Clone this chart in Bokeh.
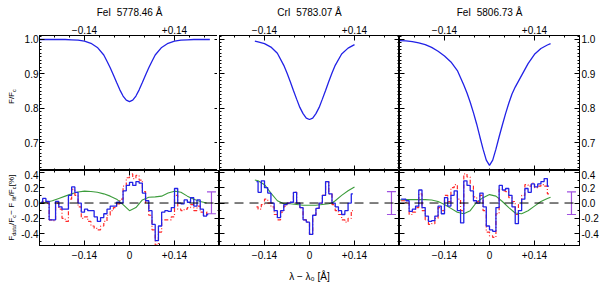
import numpy as np
from bokeh.plotting import figure
from bokeh.layouts import gridplot, row
from bokeh.models import (LinearAxis, FixedTicker, Range1d, Label, Span, Whisker,
                          ColumnDataSource, TeeHead)
from bokeh.embed import file_html
from bokeh.resources import INLINE

FONT = "Liberation Sans"
BLUE = "#2222e6"
RED = "#ff2a2a"
GREEN = "#3c9c3c"
PURPLE = "#a050e0"

# ---------------- data ----------------
titles = ["FeI\u00a0 5778.46 Å", "CrI\u00a0 5783.07 Å", "FeI\u00a0 5806.73 Å"]

# line profiles (normalised flux)
fe1_x = [-0.28, -0.26, -0.24, -0.22, -0.20, -0.18, -0.16, -0.14, -0.12, -0.10,
         -0.08, -0.07, -0.06, -0.05, -0.04, -0.03, -0.02, -0.01, 0.00, 0.01,
         0.02, 0.03, 0.04, 0.05, 0.06, 0.07, 0.08, 0.10, 0.12, 0.14,
         0.16, 0.18, 0.20, 0.22, 0.24, 0.25]
fe1_flux = [1.000, 1.000, 1.000, 1.000, 1.000, 0.999, 0.998, 0.995, 0.989, 0.977,
            0.955, 0.937, 0.918, 0.897, 0.875, 0.854, 0.836, 0.824, 0.820, 0.824,
            0.836, 0.854, 0.875, 0.897, 0.918, 0.937, 0.955, 0.977, 0.989, 0.995,
            0.998, 0.999, 1.000, 1.000, 1.000, 1.000]

cr1_x = [-0.17, -0.16, -0.14, -0.12, -0.10, -0.08, -0.07, -0.06, -0.05, -0.04,
         -0.03, -0.02, -0.01, 0.00, 0.01, 0.02, 0.03, 0.04, 0.05, 0.06,
         0.07, 0.08, 0.10, 0.12, 0.14]
cr1_flux = [0.995, 0.993, 0.988, 0.978, 0.960, 0.925, 0.903, 0.878, 0.852, 0.827,
            0.803, 0.785, 0.772, 0.768, 0.772, 0.785, 0.803, 0.827, 0.852, 0.878,
            0.903, 0.925, 0.958, 0.975, 0.985]

fe2_x = [-0.28, -0.26, -0.24, -0.22, -0.20, -0.18, -0.16, -0.14, -0.12, -0.10,
         -0.08, -0.07, -0.06, -0.05, -0.04, -0.03, -0.02, -0.01, 0.00, 0.01,
         0.02, 0.03, 0.04, 0.05, 0.06, 0.07, 0.08, 0.10, 0.12, 0.14,
         0.16, 0.18, 0.19]
fe2_flux = [0.997, 0.996, 0.994, 0.990, 0.985, 0.977, 0.966, 0.952, 0.935, 0.910,
            0.868, 0.845, 0.818, 0.788, 0.755, 0.718, 0.682, 0.650, 0.635, 0.650,
            0.682, 0.718, 0.752, 0.785, 0.815, 0.842, 0.862, 0.896, 0.930, 0.957,
            0.974, 0.984, 0.988]

# residuals [%] (bin centres)
fe1_res_x = [-0.275, -0.265, -0.255, -0.245, -0.235, -0.225, -0.215, -0.205, -0.195, -0.185,
             -0.175, -0.165, -0.155, -0.145, -0.135, -0.125, -0.115, -0.105, -0.095, -0.085,
             -0.075, -0.065, -0.055, -0.045, -0.035, -0.025, -0.015, -0.005, 0.005, 0.015,
             0.025, 0.035, 0.045, 0.055, 0.065, 0.075, 0.085, 0.095, 0.105, 0.115,
             0.125, 0.135, 0.145, 0.155, 0.165, 0.175, 0.185, 0.195, 0.205, 0.215,
             0.225, 0.235, 0.245]
fe1_res_a = [0.01, 0.06, 0.02, -0.22, -0.22, 0.02, -0.05, -0.08, -0.08, 0.10,
             0.21, 0.14, 0.00, -0.12, -0.08, -0.10, -0.10, -0.18, -0.24, -0.19,
             -0.14, -0.08, -0.04, -0.04, 0.01, 0.00, 0.16, 0.23, 0.27, 0.23,
             0.28, 0.26, 0.13, 0.03, -0.10, -0.28, -0.49, -0.30, -0.12, -0.10,
             -0.11, -0.06, 0.19, 0.00, -0.01, 0.04, 0.01, 0.07, -0.04, 0.04,
             -0.08, -0.17, -0.15]
fe1_res_b = [0.00, 0.02, 0.00, -0.22, -0.23, 0.00, -0.08, -0.20, -0.24, 0.05,
             0.18, 0.10, -0.05, -0.20, -0.18, -0.24, -0.30, -0.33, -0.35, -0.30,
             -0.24, -0.16, -0.10, -0.06, -0.01, 0.05, 0.22, 0.33, 0.38, 0.32,
             0.36, 0.30, 0.15, 0.00, -0.16, -0.35, -0.55, -0.38, -0.22, -0.22,
             -0.22, -0.18, 0.10, -0.08, -0.10, -0.08, -0.06, -0.02, -0.10, -0.04,
             -0.12, -0.16, -0.12]
fe1_sm_x = [-0.28, -0.26, -0.24, -0.22, -0.20, -0.18, -0.16, -0.14, -0.12, -0.10,
            -0.08, -0.06, -0.04, -0.02, 0.00, 0.02, 0.04, 0.06, 0.08, 0.10,
            0.12, 0.14, 0.16, 0.18, 0.20, 0.22, 0.24]
fe1_sm = [0.00, 0.01, 0.03, 0.06, 0.09, 0.12, 0.145, 0.155, 0.15, 0.14,
          0.12, 0.09, 0.05, -0.02, -0.10, -0.06, 0.04, 0.075, 0.08, 0.09,
          0.13, 0.155, 0.14, 0.09, 0.05, 0.02, 0.00]

cr1_res_x = [-0.165, -0.155, -0.145, -0.135, -0.125, -0.115, -0.105, -0.095, -0.085, -0.075,
             -0.065, -0.055, -0.045, -0.035, -0.025, -0.015, -0.005, 0.005, 0.015, 0.025,
             0.035, 0.045, 0.055, 0.065, 0.075, 0.085, 0.095, 0.105, 0.115, 0.125,
             0.135]
cr1_res_a = [0.28, 0.14, 0.29, 0.20, 0.13, 0.00, -0.10, -0.19, -0.10, -0.02,
             0.00, 0.01, 0.14, 0.00, -0.06, -0.22, -0.25, -0.41, -0.16, -0.07,
             0.00, 0.10, 0.28, 0.12, 0.00, -0.05, -0.10, -0.15, -0.10, 0.00,
             0.12]
cr1_res_b = [-0.05, -0.08, -0.02, 0.05, 0.00, -0.05, -0.15, -0.22, -0.12, -0.04,
             0.00, 0.01, 0.14, 0.00, -0.06, -0.22, -0.25, -0.41, -0.16, -0.07,
             0.00, 0.10, 0.28, 0.12, -0.02, -0.10, -0.15, -0.22, -0.25, -0.20,
             -0.10]
cr1_sm_x = [-0.17, -0.16, -0.14, -0.12, -0.10, -0.08, -0.06, -0.04, -0.02, 0.00,
            0.02, 0.04, 0.06, 0.07, 0.08, 0.10, 0.12, 0.14]
cr1_sm = [0.30, 0.29, 0.24, 0.13, 0.03, -0.01, -0.01, -0.02, -0.03, -0.03,
          -0.03, -0.02, -0.01, 0.00, 0.03, 0.10, 0.16, 0.21]

fe2_res_x = [-0.275, -0.265, -0.255, -0.245, -0.235, -0.225, -0.215, -0.205, -0.195, -0.185,
             -0.175, -0.165, -0.155, -0.145, -0.135, -0.125, -0.115, -0.105, -0.095, -0.085,
             -0.075, -0.065, -0.055, -0.045, -0.035, -0.025, -0.015, -0.005, 0.005, 0.015,
             0.025, 0.035, 0.045, 0.055, 0.065, 0.075, 0.085, 0.095, 0.105, 0.115,
             0.125, 0.135, 0.145, 0.155, 0.165, 0.175, 0.185]
fe2_res_a = [0.05, 0.05, 0.03, -0.11, -0.08, -0.04, 0.17, -0.06, -0.17, -0.24,
             -0.23, -0.17, -0.04, -0.14, 0.07, -0.04, 0.10, 0.16, -0.10, -0.26,
             0.29, 0.23, 0.16, 0.03, 0.00, 0.13, -0.05, -0.30, -0.35, -0.37,
             -0.06, 0.23, 0.17, 0.19, 0.10, -0.05, -0.27, -0.10, 0.05, 0.19,
             0.14, 0.25, 0.21, 0.25, 0.28, 0.32, 0.22]
fe2_res_b = [0.03, 0.03, 0.00, -0.15, -0.12, -0.06, 0.12, -0.10, -0.22, -0.28,
             -0.27, -0.20, -0.06, -0.10, 0.10, 0.02, 0.20, 0.24, 0.05, -0.10,
             0.38, 0.34, 0.22, 0.08, 0.02, 0.10, -0.10, -0.38, -0.43, -0.45,
             -0.14, 0.18, 0.16, 0.15, 0.07, 0.02, -0.15, -0.02, 0.10, 0.24,
             0.22, 0.26, 0.20, 0.22, 0.24, 0.22, 0.12]
fe2_sm_x = [-0.28, -0.26, -0.24, -0.22, -0.20, -0.18, -0.16, -0.14, -0.12, -0.10,
            -0.08, -0.06, -0.04, -0.02, 0.00, 0.02, 0.04, 0.06, 0.08, 0.10,
            0.12, 0.14, 0.16, 0.18, 0.19]
fe2_sm = [0.04, 0.045, 0.045, 0.045, 0.045, 0.04, 0.02, -0.02, -0.07, -0.12,
          -0.14, -0.10, 0.01, 0.07, 0.11, 0.09, 0.02, -0.06, -0.13, -0.14,
          -0.10, -0.04, 0.02, 0.06, 0.075]

# typical error bar [%]
err_x = [0.255, 0.255, 0.255]
err_hi = [0.145, 0.15, 0.145]
err_lo = [-0.14, -0.15, -0.15]

profiles = [(fe1_x, fe1_flux), (cr1_x, cr1_flux), (fe2_x, fe2_flux)]
residuals = [(fe1_res_x, fe1_res_a, fe1_res_b, fe1_sm_x, fe1_sm),
             (cr1_res_x, cr1_res_a, cr1_res_b, cr1_sm_x, cr1_sm),
             (fe2_res_x, fe2_res_a, fe2_res_b, fe2_sm_x, fe2_sm)]

# axis settings
X_RANGE = (-0.28, 0.28)
TOP_Y = (0.62, 1.0116)
BOT_Y = (-0.555, 0.425)
x_major_top = [-0.14, 0.14]
x_major_bot = [-0.14, 0.0, 0.14]
x_minor = [round(-0.28 + 0.14 / 3 * i, 4) for i in range(13)]
x_labels_top = {-0.14: "\u22120.14", 0.14: "+0.14"}
x_labels_bot = {-0.14: "\u22120.14", 0.0: "0", 0.14: "+0.14"}
y_major_top = [0.7, 0.8, 0.9, 1.0]
y_minor_top = [round(0.62 + 0.01 * i, 2) for i in range(40)]
y_labels_top = {0.7: "0.7", 0.8: "0.8", 0.9: "0.9", 1.0: "1.0"}
y_major_bot = [-0.4, -0.2, 0.0, 0.2, 0.4]
y_minor_bot = [-0.5, -0.3, -0.1, 0.1, 0.3]
y_labels_bot = {-0.4: "-0.4", -0.2: "-0.2", 0.0: "0.0", 0.2: "0.2", 0.4: "0.4"}

FW = 180
FH_TOP = 135
FH_BOT = 75
LAB_W = 18
LEFT_B = 19
RIGHT_B = 20
TOP_B = 35
BOT_B = 38
TOTAL_H = TOP_B + FH_TOP + FH_BOT + BOT_B


def add_axis(p, side, ticks, minor, overrides=None, standoff=3):
    ax = LinearAxis(ticker=FixedTicker(ticks=ticks, minor_ticks=minor))
    ax.major_tick_in = 5
    ax.major_tick_out = 0
    ax.minor_tick_in = 2
    ax.minor_tick_out = 0
    ax.axis_line_color = "black"
    ax.major_tick_line_color = "black"
    ax.minor_tick_line_color = "black"
    if overrides is not None:
        ax.major_label_overrides = overrides
        ax.major_label_text_font = FONT
        ax.major_label_text_font_size = "10px"
        ax.major_label_text_color = "black"
        ax.major_label_standoff = standoff
    else:
        ax.major_label_overrides = {t: "" for t in ticks}
        ax.major_label_text_font_size = "0px"
        ax.major_label_standoff = 0
    p.add_layout(ax, side)
    return ax


def make_fig(col, top):
    fh = FH_TOP if top else FH_BOT
    p = figure(frame_width=FW, frame_height=fh,
               x_range=Range1d(*X_RANGE), y_range=Range1d(*(TOP_Y if top else BOT_Y)),
               x_axis_location=None, y_axis_location=None,
               toolbar_location=None, output_backend="svg")
    p.min_border = 0
    p.min_border_left = LEFT_B if col == 0 else 0
    p.min_border_right = RIGHT_B if col == 2 else 0
    p.min_border_top = TOP_B if top else 0
    p.min_border_bottom = 0 if top else BOT_B
    p.xgrid.visible = False
    p.ygrid.visible = False
    p.outline_line_color = "black"
    p.background_fill_color = "white"
    p.border_fill_color = "white"
    ym, yn, yl = (y_major_top, y_minor_top, y_labels_top) if top else (y_major_bot, y_minor_bot, y_labels_bot)
    add_axis(p, "left", ym, yn, yl if col == 0 else None, standoff=1)
    add_axis(p, "right", ym, yn, yl if col == 2 else None, standoff=2)
    if top:
        add_axis(p, "above", x_major_top, x_minor, x_labels_top, standoff=2)
        add_axis(p, "below", x_major_top, x_minor, None)
    else:
        add_axis(p, "above", x_major_bot, x_minor, None)
        ax = add_axis(p, "below", x_major_bot, x_minor, x_labels_bot, standoff=5)
        if col == 1:
            ax.axis_label = "\u03bb \u2212 \u03bb\u2080 [Å]"
            ax.axis_label_text_font = FONT
            ax.axis_label_text_font_size = "10px"
            ax.axis_label_text_font_style = "normal"
            ax.axis_label_text_color = "black"
            ax.axis_label_standoff = 9
    return p


def vlabel(p, pieces, x0, ycenter):
    # each piece is centred on its own slot, so the anchor is unambiguous when rotated
    total = sum(w for _, _, w, _ in pieces)
    y = ycenter - total / 2
    for text, size, w, sub in pieces:
        p.add_layout(Label(x=x0 + (2.3 if sub else 0), y=y + w / 2, x_units="screen", y_units="screen",
                           text=text, angle=np.pi / 2, text_font=FONT,
                           text_font_size=f"{size}px", text_align="center",
                           text_baseline="middle", text_color="black"))
        y += w


top_row, bot_row = [], []
for c in range(3):
    # top: profile
    pt = make_fig(c, True)
    px, pf = profiles[c]
    pt.line(px, pf, line_color=BLUE, line_width=1.3)
    pt.title.text = titles[c]
    pt.title.align = "center"
    pt.title.text_font = FONT
    pt.title.text_font_size = "10px"
    pt.title.text_font_style = "normal"
    pt.title.text_color = "black"
    pt.title.standoff = 9
    top_row.append(pt)

    # bottom: residuals
    pb = make_fig(c, False)
    rx, ra, rb, sx, sm = residuals[c]
    pb.add_layout(Span(location=0, dimension="width", line_color="black",
                       line_dash="9 6", line_width=1))
    pb.line(sx, sm, line_color=GREEN, line_width=1.1)
    pb.step(rx, rb, mode="center", line_color=RED, line_width=1.2, line_dash="4 2 1 2")
    pb.step(rx, ra, mode="center", line_color=BLUE, line_width=1.3)
    src = ColumnDataSource(dict(base=[err_x[c]], upper=[err_hi[c]], lower=[err_lo[c]]))
    pb.add_layout(Whisker(source=src, base="base", upper="upper", lower="lower",
                          dimension="height", line_color=PURPLE, line_width=1.2,
                          upper_head=TeeHead(size=9, line_color=PURPLE, line_width=1.2),
                          lower_head=TeeHead(size=9, line_color=PURPLE, line_width=1.2)))
    bot_row.append(pb)

# one narrow column holding both y-axis titles (positions measured from its bottom edge)
lab = figure(frame_width=LAB_W, frame_height=TOTAL_H, x_range=Range1d(0, 1), y_range=Range1d(0, 1),
             x_axis_location=None, y_axis_location=None, title_location=None,
             toolbar_location=None, output_backend="svg")
lab.min_border = 0
lab.xgrid.visible = False
lab.ygrid.visible = False
lab.outline_line_color = None
lab.background_fill_color = "white"
lab.border_fill_color = "white"

# pieces: text, font size, advance, subscript
vlabel(lab, [("F/F", 8, 12.0, False), ("c", 5.5, 3.0, True)], 11, TOTAL_H - 96)
vlabel(lab, [("F", 8, 4.9, False), ("data", 5.5, 10.7, True), ("/F", 8, 7.1, False),
             ("c", 5.5, 3.2, True), (" \u2212 F", 8, 14.0, False), ("fit", 5.5, 4.3, True),
             ("/F", 8, 7.1, False), ("c", 5.5, 3.2, True), (" [%]", 8, 13.8, False)],
       11, TOTAL_H - 206)

grid = gridplot([top_row, bot_row], toolbar_location=None)
layout = row(lab, grid)

with open("out.html", "w") as f:
    f.write(file_html(layout, INLINE))
